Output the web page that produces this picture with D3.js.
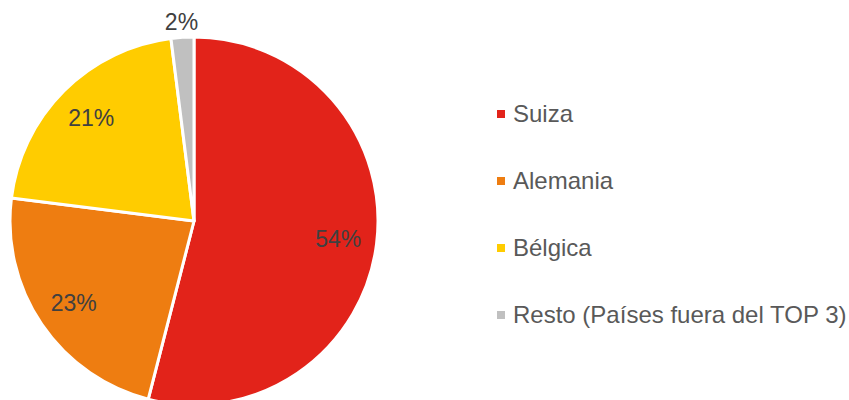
<!DOCTYPE html>
<html>
<head>
<meta charset="utf-8">
<script src="https://cdn.jsdelivr.net/npm/d3@7"></script>
<style>
  body { margin: 0; background: #fff; }
  svg { display: block; font-family: "Liberation Sans", Arial, sans-serif; }
</style>
</head>
<body>
<div id="chart"></div>
<script>
var categories = ["Suiza", "Alemania", "Bélgica", "Resto (Países fuera del TOP 3)"];
var values = [54, 23, 21, 2];
var colors = ["#e2231a", "#ee7d11", "#ffcc00", "#c0c0c0"];

var width = 849, height = 400;
var cx = 194, cy = 221, radius = 184;

var svg = d3.select("#chart").append("svg")
	.attr("width", width)
	.attr("height", height);

var data = categories.map(function(c, i) { return {name: c, value: values[i], color: colors[i]}; });

var pie = d3.pie().sort(null).value(function(d) { return d.value; });
var arc = d3.arc().innerRadius(0).outerRadius(radius);
var labelArc = d3.arc().innerRadius(radius * 0.79).outerRadius(radius * 0.79);
var outerArc = d3.arc().innerRadius(radius * 1.085).outerRadius(radius * 1.085);

var g = svg.append("g").attr("transform", "translate(" + cx + "," + cy + ")");

var arcs = pie(data);

g.selectAll("path")
	.data(arcs)
	.enter().append("path")
		.attr("d", arc)
		.attr("fill", function(d) { return d.data.color; })
		.attr("stroke", "#fff")
		.attr("stroke-width", 3)
		.attr("stroke-linejoin", "round");

// percentage labels, small slices go outside
g.selectAll("text.pct")
	.data(arcs)
	.enter().append("text")
		.attr("class", "pct")
		.attr("transform", function(d) {
			var p = d.data.value < 5 ? outerArc.centroid(d) : labelArc.centroid(d);
			return "translate(" + p + ")";
		})
		.attr("text-anchor", "middle")
		.attr("dy", "0.35em")
		.attr("font-size", 23)
		.attr("fill", "#404040")
		.text(function(d) { return d.data.value + "%"; });

// legend
var legendY = d3.scalePoint().domain(categories).range([114, 315]);

var legend = svg.append("g").selectAll("g")
	.data(data)
	.enter().append("g")
		.attr("transform", function(d) { return "translate(497," + legendY(d.name) + ")"; });

legend.append("rect")
	.attr("x", 0)
	.attr("y", -4)
	.attr("width", 8)
	.attr("height", 8)
	.attr("fill", function(d) { return d.color; });

legend.append("text")
	.attr("x", 16)
	.attr("dy", "0.35em")
	.attr("font-size", 24)
	.attr("fill", "#595959")
	.text(function(d) { return d.name; });
</script>
</body>
</html>
